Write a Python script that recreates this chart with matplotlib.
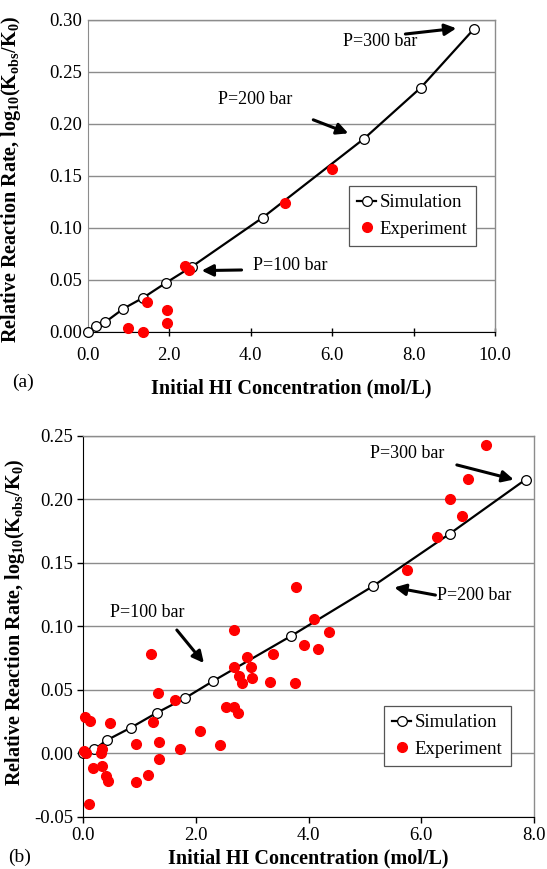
import matplotlib
matplotlib.use("Agg")
import matplotlib.pyplot as plt
from matplotlib.ticker import MultipleLocator, FormatStrFormatter

plt.rcParams['font.family'] = ['Liberation Serif', 'DejaVu Serif']
plt.rcParams['mathtext.fontset'] = 'custom'
plt.rcParams['mathtext.rm'] = 'Liberation Serif'
plt.rcParams['mathtext.bf'] = 'Liberation Serif:bold'
plt.rcParams['mathtext.default'] = 'bf'

# ---- data (a) ----
sim_a_x = [0.0, 0.21, 0.43, 0.88, 1.37, 1.93, 2.56, 4.30, 6.79, 8.18, 9.49]
sim_a_y = [0.0, 0.006, 0.0093, 0.0224, 0.033, 0.0474, 0.0628, 0.110, 0.186, 0.235, 0.2917]
exp_a_x = [1.00, 1.35, 1.47, 1.96, 1.96, 2.40, 2.48, 4.85, 6.01]
exp_a_y = [0.0041, 0.0003, 0.029, 0.021, 0.0087, 0.063, 0.060, 0.124, 0.157]

# ---- data (b) ----
sim_b_x = [0.0, 0.195, 0.415, 0.84, 1.30, 1.81, 2.30, 3.68, 5.14, 6.50, 7.85]
sim_b_y = [0.0, 0.003, 0.0102, 0.020, 0.0317, 0.0435, 0.0567, 0.0921, 0.1315, 0.1727, 0.2155]
exp_b_x = [0.02, 0.05, 0.03, 0.12, 0.10, 0.18, 0.33, 0.31, 0.34, 0.41, 0.43, 0.47,
           0.94, 0.94, 1.14, 1.20, 1.23, 1.32, 1.34, 1.35, 1.63, 1.72, 2.07, 2.42,
           2.53, 2.68, 2.68, 2.68, 2.75, 2.77, 2.82, 2.90, 2.98, 3.00, 3.32, 3.36,
           3.77, 3.76, 3.92, 4.10, 4.16, 4.36, 5.75, 6.28, 6.51, 6.73, 6.82, 7.15]
exp_b_y = [0.002, 0.000, 0.0283, 0.025, -0.040, -0.012, -0.010, 0.000, 0.003, -0.018, -0.022, 0.0234,
           0.0076, -0.0226, -0.0168, 0.078, 0.0244, 0.0475, 0.0088, -0.0046, 0.0417, 0.0031, 0.0171, 0.0065,
           0.0365, 0.097, 0.0675, 0.0365, 0.0315, 0.061, 0.0554, 0.0754, 0.0675, 0.059, 0.0561, 0.078,
           0.1306, 0.0554, 0.085, 0.1053, 0.0824, 0.0958, 0.144, 0.170, 0.200, 0.1866, 0.2163, 0.2428]

xlabel = "Initial HI Concentration (mol/L)"
ylabel = r"Relative Reaction Rate, log$_{10}$(K$_{obs}$/K$_{0}$)"

fig = plt.figure(figsize=(5.47, 8.69), dpi=100)
ax1 = fig.add_axes([0.160, 0.618, 0.745, 0.359])
ax2 = fig.add_axes([0.1523, 0.0602, 0.824, 0.4384])

GRID = '#8c8c8c'
TFS = 13.5
LFS = 14.5
AFS = 13

def style(ax, xmax, ymin, ymax, xstep, xlabelpad):
    ax.set_xlim(0, xmax)
    ax.set_ylim(ymin, ymax)
    ax.xaxis.set_major_locator(MultipleLocator(xstep))
    ax.yaxis.set_major_locator(MultipleLocator(0.05))
    ax.xaxis.set_major_formatter(FormatStrFormatter('%.1f'))
    ax.yaxis.set_major_formatter(FormatStrFormatter('%.2f'))
    ax.grid(axis='y', color=GRID, lw=1.0)
    ax.set_axisbelow(True)
    for s in ['top', 'right']:
        ax.spines[s].set_color(GRID)
        ax.spines[s].set_linewidth(1.0)
    ax.tick_params(labelsize=TFS, width=1, length=4)
    ax.set_xlabel(xlabel, fontsize=LFS, fontweight='bold', labelpad=xlabelpad)
    ax.set_ylabel(ylabel, fontsize=LFS, fontweight='bold')

def draw(ax, sx, sy, ex, ey):
    ax.plot(sx, sy, '-', color='black', lw=1.6, marker='o', ms=7,
            mfc='white', mec='black', mew=0.9, label='Simulation', zorder=3, clip_on=False)
    ax.plot(ex, ey, 'o', color='red', ms=7, mec='red', ls='none',
            label='Experiment', zorder=4, clip_on=False)

arrow = dict(arrowstyle='-|>', lw=2.2, color='black', mutation_scale=17, shrinkA=0, shrinkB=0)

# (a)
style(ax1, 10.0, 0.0, 0.30, 2.0, 10.5)
draw(ax1, sim_a_x, sim_a_y, exp_a_x, exp_a_y)
ax1.spines['left'].set_color(GRID)
ax1.tick_params(axis='y', length=0, pad=3.8)
ax1.tick_params(axis='x', direction='inout', length=6, pad=7.5)
ax1.yaxis.set_label_coords(-0.158, 0.49)
ax1.annotate('', xy=(9.05, 0.292), xytext=(7.8, 0.2865), arrowprops=arrow)
ax1.text(7.18, 0.279, 'P=300 bar', fontsize=AFS, ha='center', va='center')
ax1.annotate('', xy=(6.40, 0.191), xytext=(5.54, 0.204), arrowprops=arrow)
ax1.text(4.11, 0.224, 'P=200 bar', fontsize=AFS, ha='center', va='center')
ax1.annotate('', xy=(2.80, 0.059), xytext=(3.78, 0.0596), arrowprops=arrow)
ax1.text(4.06, 0.064, 'P=100 bar', fontsize=AFS, ha='left', va='center')
leg1 = ax1.legend(loc='center', bbox_to_anchor=(0.797, 0.372), fontsize=13.5,
                  fancybox=False, edgecolor='#555555', framealpha=1,
                  handlelength=1.0, handletextpad=0.2, borderpad=0.45, labelspacing=0.5,
                  borderaxespad=0)
leg1.get_frame().set_linewidth(0.9)

# (b)
style(ax2, 8.0, -0.05, 0.25, 2.0, 3.5)
draw(ax2, sim_b_x, sim_b_y, exp_b_x, exp_b_y)
ax2.tick_params(direction='out', length=4)
ax2.yaxis.set_label_coords(-0.125, 0.51)
ax2.annotate('', xy=(7.64, 0.2155), xytext=(6.63, 0.227), arrowprops=arrow)
ax2.text(5.75, 0.2357, 'P=300 bar', fontsize=AFS, ha='center', va='center')
ax2.annotate('', xy=(5.52, 0.1305), xytext=(6.25, 0.1245), arrowprops=arrow)
ax2.text(6.28, 0.124, 'P=200 bar', fontsize=AFS, ha='left', va='center')
ax2.annotate('', xy=(2.14, 0.071), xytext=(1.66, 0.097), arrowprops=arrow)
ax2.text(1.14, 0.111, 'P=100 bar', fontsize=AFS, ha='center', va='center')
leg2 = ax2.legend(loc='center', bbox_to_anchor=(0.808, 0.212), fontsize=13.5,
                  fancybox=False, edgecolor='#555555', framealpha=1,
                  handlelength=1.0, handletextpad=0.2, borderpad=0.45, labelspacing=0.5,
                  borderaxespad=0)
leg2.get_frame().set_linewidth(0.9)

fig.text(12/547, 1 - 382/869, '(a)', fontsize=14, ha='left', va='center')
fig.text(8/547, 1 - 857/869, '(b)', fontsize=14, ha='left', va='center')

fig.savefig('out.png', dpi=100)
